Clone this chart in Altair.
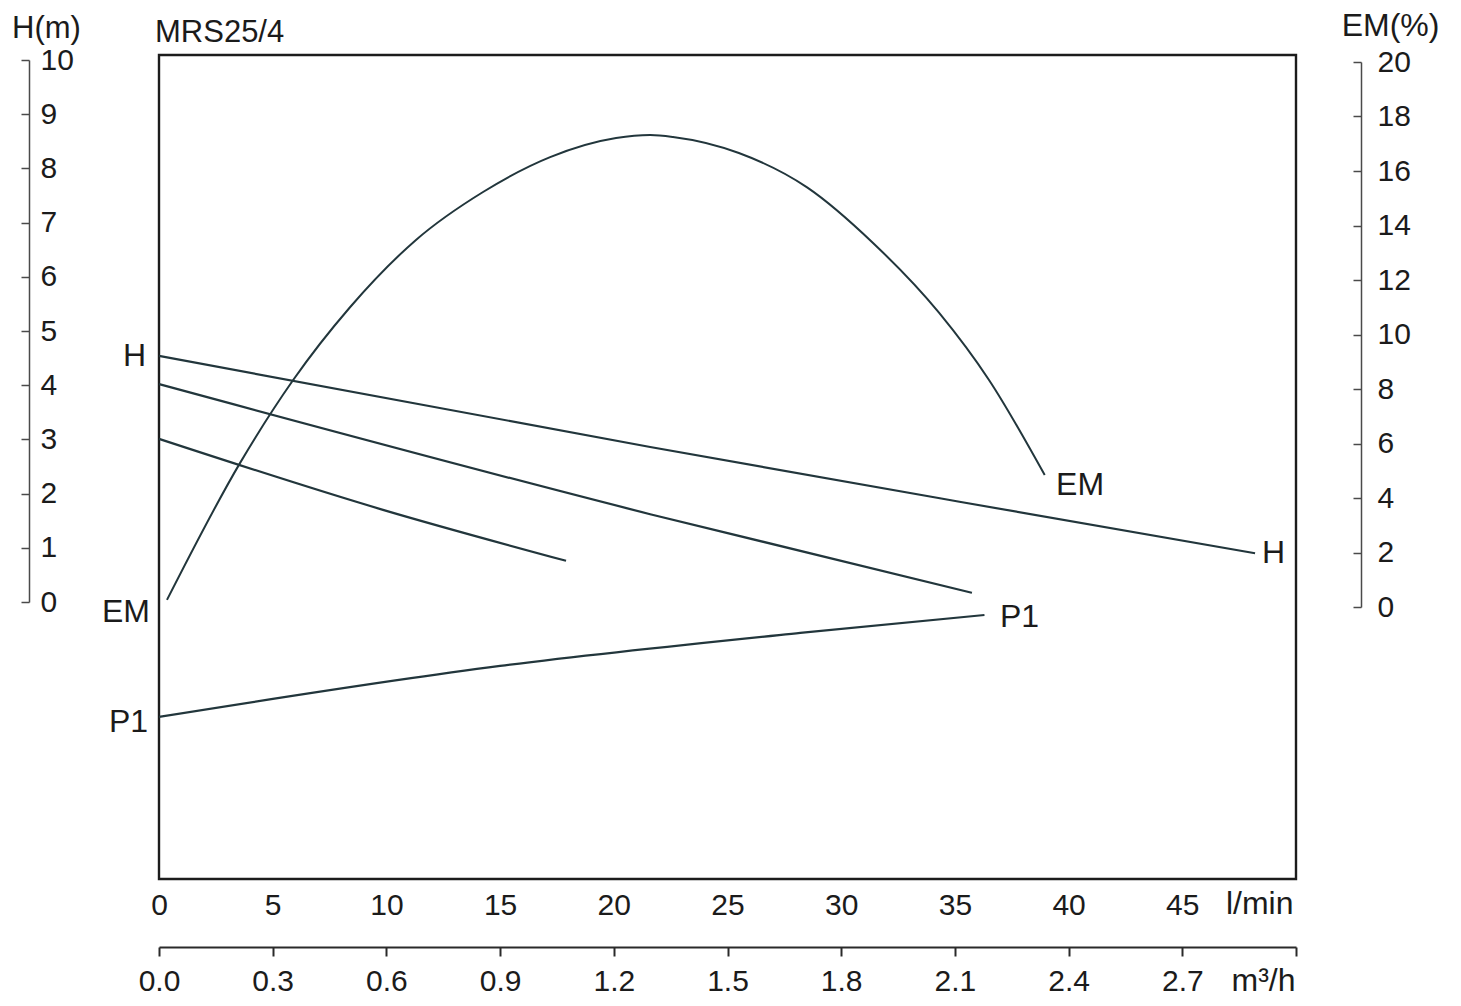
import altair as alt
import pandas as pd

# ---------------- data ----------------
Q_TICKS = [0, 5, 10, 15, 20, 25, 30, 35, 40, 45]            # l/min
M3H_TICKS = [0.0, 0.3, 0.6, 0.9, 1.2, 1.5, 1.8, 2.1, 2.4, 2.7, 3.0]  # m3/h
H_TICKS = [0, 1, 2, 3, 4, 5, 6, 7, 8, 9, 10]                  # H (m)
EM_TICKS = [0, 2, 4, 6, 8, 10, 12, 14, 16, 18, 20]            # EM (%)

# head curves (three speeds)
h_high_q = [0, 21.6, 35.2, 48.2]
h_high_v = [4.54, 2.86, 1.85, 0.90]
h_med_q = [0, 21.6, 35.75]
h_med_v = [4.02, 1.62, 0.17]
h_low_q = [0, 9.85, 17.9]
h_low_v = [3.01, 1.70, 0.76]
# power curve (unlabelled scale, drawn on head scale positions)
p1_q = [0, 15.0, 28.2, 36.3]
p1_v = [-2.12, -1.18, -0.57, -0.24]
# efficiency curve
em_q = [0.35, 3.56, 5.9, 8.4, 11.3, 14.25, 17.2, 20.1, 21.6, 22.6, 25.5, 28.5, 31.4, 34.3, 36.5, 38.95]
em_v = [0.26, 5.28, 8.33, 11.0, 13.47, 15.23, 16.51, 17.21, 17.32, 17.25, 16.66, 15.4, 13.36, 10.8, 8.33, 4.84]

# curve labels
lab_text = ["H", "EM", "P1", "EM", "H", "P1"]
lab_q = [-0.57, -0.40, -0.48, 39.45, 48.5, 36.98]
lab_v = [4.54, -0.185, -2.21, 2.16, 0.90, -0.28]
lab_side = ["left", "left", "left", "right", "right", "right"]

# ---------------- tables ----------------
rows = []
for name, qs, vs in [("H3", h_high_q, h_high_v), ("H2", h_med_q, h_med_v),
                     ("H1", h_low_q, h_low_v), ("P1", p1_q, p1_v)]:
    for i, (q, v) in enumerate(zip(qs, vs)):
        rows.append({"series": name, "q": q, "v": v, "o": i})
head_df = pd.DataFrame(rows)
em_df = pd.DataFrame({"q": em_q, "em": em_v, "o": list(range(len(em_q)))})
lab_df = pd.DataFrame({"t": lab_text, "q": lab_q, "v": lab_v, "side": lab_side})
m3_df = pd.DataFrame({"m3h": M3H_TICKS})

FONT = "Liberation Sans"
INK = "#1b1b1b"
CURVE = "#22363c"
AX = "#4a4a4a"
FS = 30

x_enc = alt.X(
    "q:Q",
    scale=alt.Scale(domain=[0, 50], nice=False, zero=False),
    axis=alt.Axis(
        orient="bottom", values=Q_TICKS, ticks=False, tickSize=0, domain=False,
        grid=False, labelPadding=11, labelFontSize=FS, labelFont=FONT,
        labelColor=INK, labelFlush=False, labelOverlap=False,
        title="l/min", titleX=1134, titleY=34, titleAlign="right",
        titleBaseline="alphabetic", titleAngle=0, titleFontSize=32,
        titleFont=FONT, titleFontWeight="normal", titleColor=INK,
    ),
)

y_h = alt.Y(
    "v:Q",
    scale=alt.Scale(domain=[0, 10], range=[547, 5], nice=False, zero=False),
    axis=alt.Axis(
        orient="left", offset=130, values=H_TICKS, tickSize=8, tickWidth=1.5,
        tickColor=AX, domainColor=AX, domainWidth=1.5, grid=False,
        labelAlign="left", labelBaseline="middle", labelPadding=-19,
        labelFontSize=FS, labelFont=FONT, labelColor=INK, labelFlush=False,
        labelOverlap=False,
        title="H(m)", titleX=17, titleY=-18, titleAlign="center",
        titleBaseline="alphabetic", titleAngle=0, titleFontSize=31,
        titleFont=FONT, titleFontWeight="normal", titleColor=INK,
    ),
)

y_em = alt.Y(
    "em:Q",
    scale=alt.Scale(domain=[0, 20], range=[552, 7], nice=False, zero=False),
    axis=alt.Axis(
        orient="left", offset=-1202, values=EM_TICKS, tickSize=8, tickWidth=1.5,
        tickColor=AX, domainColor=AX, domainWidth=1.5, grid=False,
        labelAlign="left", labelBaseline="middle", labelPadding=-24,
        labelFontSize=FS, labelFont=FONT, labelColor=INK, labelFlush=False,
        labelOverlap=False,
        title="EM(%)", titleX=29, titleY=-20, titleAlign="center",
        titleBaseline="alphabetic", titleAngle=0, titleFontSize=32,
        titleFont=FONT, titleFontWeight="normal", titleColor=INK,
    ),
)

head_lines = alt.Chart(head_df).mark_line(
    color=CURVE, strokeWidth=2.2, interpolate="monotone"
).encode(x=x_enc, y=y_h, detail="series:N", order="o:Q")

lab_left = alt.Chart(lab_df).transform_filter(alt.datum.side == "left").mark_text(
    align="right", baseline="middle", font=FONT, fontSize=32, color=INK
).encode(x=x_enc, y=y_h, text="t:N")

lab_right = alt.Chart(lab_df).transform_filter(alt.datum.side == "right").mark_text(
    align="left", baseline="middle", font=FONT, fontSize=32, color=INK
).encode(x=x_enc, y=y_h, text="t:N")

em_line = alt.Chart(em_df).mark_line(
    color=CURVE, strokeWidth=2.0, interpolate="monotone"
).encode(x=x_enc, y=y_em, order="o:Q")

head_group = alt.layer(head_lines, lab_left, lab_right)
inner = alt.layer(head_group, em_line).resolve_scale(y="independent")

m3_layer = alt.Chart(m3_df).mark_point(opacity=0).encode(
    x=alt.X(
        "m3h:Q",
        scale=alt.Scale(domain=[0, 3.0], nice=False, zero=False),
        axis=alt.Axis(
            orient="bottom", offset=68, values=M3H_TICKS, tickSize=9, tickWidth=2,
            tickColor="#2a2a2a", domainColor="#2a2a2a", domainWidth=2.2, grid=False,
            labelPadding=10, labelFontSize=FS, labelFont=FONT, labelColor=INK,
            labelFlush=False, labelOverlap=False,
            labelExpr="datum.value > 2.95 ? '' : format(datum.value, '.1f')",
            title="m³/h", titleX=1136, titleY=43, titleAlign="right",
            titleBaseline="alphabetic", titleAngle=0, titleFontSize=32,
            titleFont=FONT, titleFontWeight="normal", titleColor=INK,
        ),
    )
)

chart = alt.layer(inner, m3_layer).resolve_scale(x="independent").properties(
    width=1137,
    height=824,
    title=alt.TitleParams(
        "MRS25/4", anchor="start", frame="group", fontSize=31, font=FONT,
        fontWeight="normal", color=INK, offset=-20, baseline="alphabetic",
        dx=-4, dy=44,
    ),
    autosize=alt.AutoSizeParams(type="none"),
    padding={"left": 151, "top": 47, "right": 155, "bottom": 120},
).configure(
    background="white",
    view=alt.ViewConfig(stroke="#1c1c1c", strokeWidth=2.4),
)

chart.save("out.html", embed_options={"renderer": "svg", "actions": False})
